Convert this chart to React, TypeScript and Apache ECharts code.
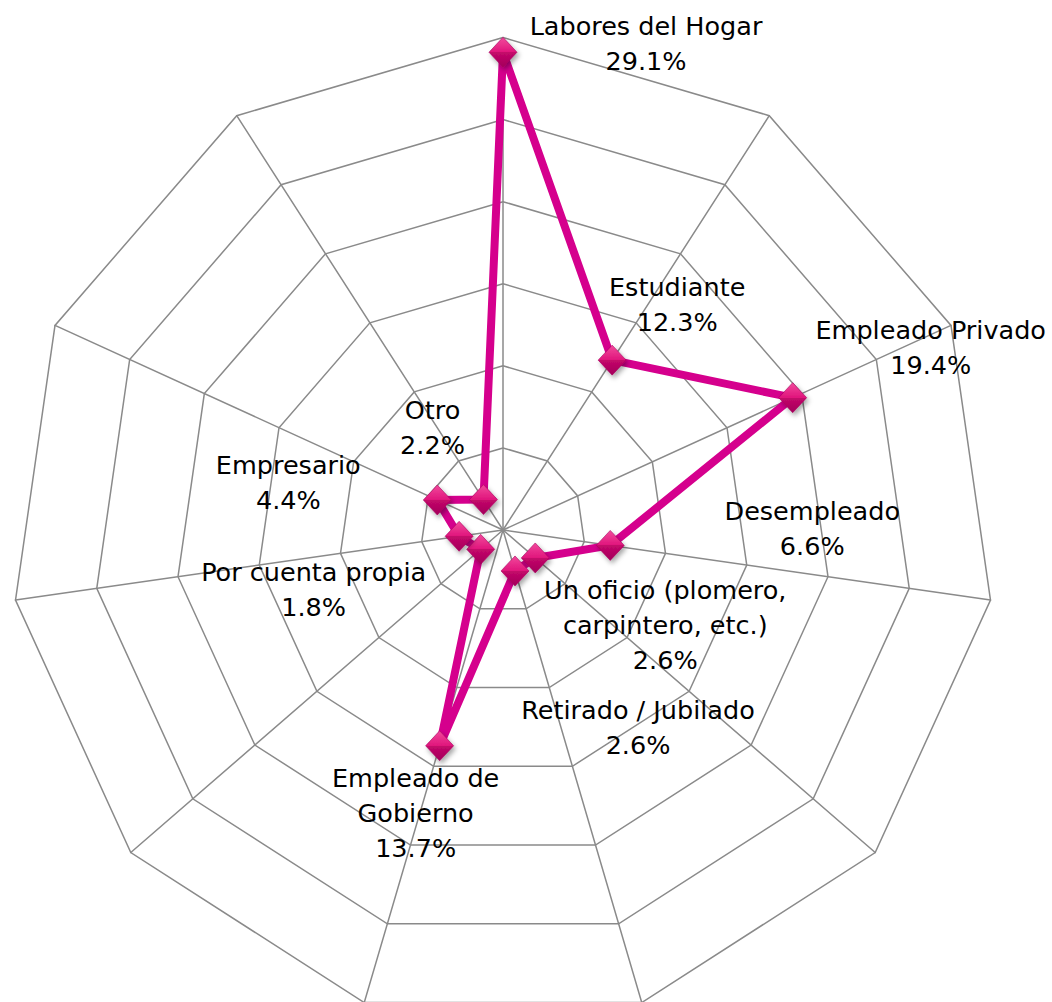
import React, { useEffect, useRef } from "react";
import * as echarts from "echarts";

// ---- DATA ----
const categories: string[] = [
  "Labores del Hogar",
  "Estudiante",
  "Empleado Privado",
  "Desempleado",
  "Un oficio (plomero,\ncarpintero, etc.)",
  "Retirado / Jubilado",
  "Empleado de\nGobierno",
  "Por cuenta propia",
  "",
  "Empresario",
  "Otro",
];
const values: number[] = [29.1, 12.3, 19.4, 6.6, 2.6, 2.6, 13.7, 1.8, 2.7, 4.4, 2.2];
const axisMax = 30;
const ringCount = 6;

// ---- STYLING (label placement relative to each marker) ----
const labelOffsets: (number[] | null)[] = [
  [143, -9],
  [65, -56],
  [138, -50],
  [202, -17],
  [130, 67],
  [123, 157],
  [-24, 67],
  [-167, 40],
  null,
  [-149, -17],
  [-51, -72],
];

const CENTER = [503, 530];
const RADIUS = 492.5;

export default function App() {
  const ref = useRef<HTMLDivElement>(null);

  useEffect(() => {
    if (!ref.current) return;
    const chart = echarts.init(ref.current, null, { renderer: "svg" });

    const n = categories.length;
    const seriesData: any[] = values.map((v, i) => {
      const off = labelOffsets[i];
      return {
        value: [v, i],
        label: off
          ? {
              show: true,
              position: "inside",
              offset: off,
              formatter: () => `${categories[i]}\n${v.toFixed(1)}%`,
            }
          : { show: false },
      };
    });
    // close the polygon back to the first category
    seriesData.push({
      value: [values[0], n],
      symbol: "none",
      label: { show: false },
    });

    const option: any = {
      animation: false,
      backgroundColor: "#ffffff",
      radar: {
        center: CENTER,
        radius: RADIUS,
        startAngle: 90,
        shape: "polygon",
        splitNumber: ringCount,
        indicator: categories.map(() => ({ name: "", max: axisMax, min: 0 })),
        axisName: { show: false },
        axisLine: { lineStyle: { color: "#8a8a8a", width: 1.5 } },
        axisTick: { show: false },
        axisLabel: { show: false },
        splitLine: { lineStyle: { color: "#8a8a8a", width: 1.5 } },
        splitArea: { show: false },
      },
      polar: {
        center: CENTER,
        radius: [0, RADIUS],
      },
      angleAxis: {
        type: "value",
        min: 0,
        max: n,
        startAngle: 90,
        clockwise: true,
        show: false,
      },
      radiusAxis: {
        type: "value",
        min: 0,
        max: axisMax,
        show: false,
      },
      series: [
        {
          type: "line",
          coordinateSystem: "polar",
          data: seriesData,
          symbol: "diamond",
          symbolSize: [28, 30],
          showAllSymbol: true,
          lineStyle: { color: "#D5008D", width: 8, join: "round" },
          itemStyle: {
            color: {
              type: "linear",
              x: 0,
              y: 0,
              x2: 0,
              y2: 1,
              colorStops: [
                { offset: 0, color: "#F24A9C" },
                { offset: 0.5, color: "#E0157C" },
                { offset: 0.5, color: "#C4086A" },
                { offset: 1, color: "#A3005A" },
              ],
            },
            borderColor: "#A8005E",
            borderWidth: 0.6,
            shadowColor: "rgba(0,0,0,0.35)",
            shadowBlur: 5,
            shadowOffsetX: 2,
            shadowOffsetY: 3,
          },
          label: {
            color: "#000000",
            fontFamily: "DejaVu Sans",
            fontSize: 25.5,
            lineHeight: 35,
            align: "center",
            verticalAlign: "middle",
          },
          emphasis: { disabled: true },
          z: 3,
        },
      ],
    };

    chart.setOption(option);
    return () => chart.dispose();
  }, []);

  return (
    <div
      ref={ref}
      style={{ position: "absolute", left: 0, top: 0, width: 1052, height: 1002 }}
    />
  );
}
